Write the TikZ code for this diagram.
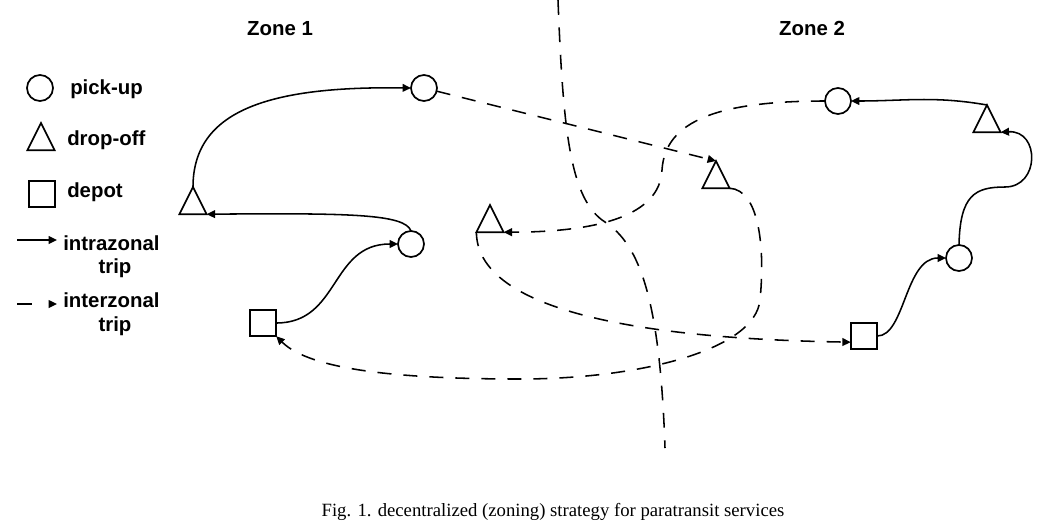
\documentclass[tikz,border=0pt]{standalone}
\usepackage{fontspec}
\setmainfont{Liberation Serif}
\setsansfont{Liberation Sans}
\usetikzlibrary{arrows.meta, shapes.geometric}

\tikzset{
  stopnode/.style={draw, line width=1.2pt, inner sep=0pt, outer sep=0pt},
  pickup/.style={stopnode, circle, minimum size=0.65cm},
  dropoff/.style={stopnode, isosceles triangle, isosceles triangle stretches,
    shape border rotate=90, minimum width=0.68cm, minimum height=0.68cm},
  depot/.style={stopnode, rectangle, minimum size=0.66cm},
  lbl/.style={font=\sffamily\bfseries\fontsize{14.5}{16}\selectfont, inner sep=0pt},
  intra/.style={line width=1.1pt, -{Triangle[length=6pt,width=5.5pt]}},
  inter/.style={intra, dash pattern=on 10pt off 8.5pt},
  zoneline/.style={line width=1.1pt, dash pattern=on 10.5pt off 9pt}
}

\begin{document}
\begin{tikzpicture}[x=0.025cm, y=-0.025cm]
\useasboundingbox (0,0) rectangle (1058,527);
% Zone titles
\node[lbl, anchor=base] (z1) at (280,35) {Zone 1};
\node[lbl, anchor=base] (z2) at (812,35) {Zone 2};
% Legend symbols
\node[pickup] (lp) at (40,88) {};
\node[dropoff, anchor=apex] (ld) at (41,123) {};
\node[depot] (ls) at (42,194) {};
\node[lbl, anchor=base west] (tpick) at (70,94) {pick-up};
\node[lbl, anchor=base west] (tdrop) at (67,145) {drop-off};
\node[lbl, anchor=base west] (tdepot) at (67,197) {depot};
% Legend arrows
\coordinate (ia) at (17,240);
\coordinate (ib) at (57,240);
\coordinate (ja) at (17,304);
\coordinate (jb) at (57,304);
\draw[intra] (ia) -- (ib);
\draw[intra, dash pattern=on 10.6pt off 12pt] (ja) -- (jb);
\node[lbl, anchor=base west] (tintra) at (63,250) {intrazonal};
\node[lbl, anchor=base] (tintra2) at (115,273) {trip};
\node[lbl, anchor=base west] (tinter) at (63,307) {interzonal};
\node[lbl, anchor=base] (tinter2) at (115,331) {trip};
% Boundary between the two zones
\coordinate (top) at (558,0);
\coordinate (bend) at (605,222);
\coordinate (bottom) at (665,448);
\draw[zoneline] (top) .. controls (563,130) and (570,200) .. (bend)
  .. controls (640,245) and (660,300) .. (bottom);
% Stops in zone 1
\node[pickup] (p1) at (424,88) {};
\node[pickup] (p2) at (411,244) {};
\node[dropoff, anchor=apex] (d1) at (193,187) {};
\node[depot] (s1) at (263,323) {};
% Stops in zone 2
\node[pickup] (p3) at (838,101) {};
\node[pickup] (p4) at (959,258) {};
\node[dropoff, anchor=apex] (d2) at (987,105) {};
\node[depot] (s2) at (864,336) {};
% Drop-offs reached from the other zone
\node[dropoff, anchor=apex] (d3) at (490,205) {};
\node[dropoff, anchor=apex] (d4) at (716,161) {};
% Intrazonal trips, zone 1
\draw[intra] (s1.east) .. controls (340,323) and (330,244) .. (p2.west);
\draw[intra] (p2.north) .. controls (405,214) and (350,213) .. (d1.right corner);
\draw[intra] (d1.apex) .. controls (193,110) and (270,86) .. (p1.west);
% Intrazonal trips, zone 2
\draw[intra] (s2.east) .. controls (905,336) and (905,258) .. (p4.west);
\draw[intra] (p4.north) .. controls (960,195) and (975,187) .. (1005,187)
  .. controls (1040,187) and (1040,130) .. (d2.right corner);
\draw[intra] (d2.apex) to[out=170, in=0] (p3.east);
% Interzonal trips
\draw[inter] (p1) -- (d4.apex);
\draw[inter] (p3.west) .. controls (720,101) and (665,120) .. (662,170)
  .. controls (660,215) and (600,232) .. (d3.right corner);
\draw[inter] (d3.left corner) .. controls (477,300) and (600,338) .. (s2.205);
\draw[inter] (d4.right corner) .. controls (760,190) and (765,250) .. (760,300)
  .. controls (755,350) and (640,379) .. (520,379)
  .. controls (400,379) and (310,370) .. (s1.south east);
% Caption
\node[font=\fontsize{13.3}{16}\selectfont, anchor=base] (cap) at (553,516)
  {Fig. 1. decentralized (zoning) strategy for paratransit services};
\end{tikzpicture}
\end{document}
